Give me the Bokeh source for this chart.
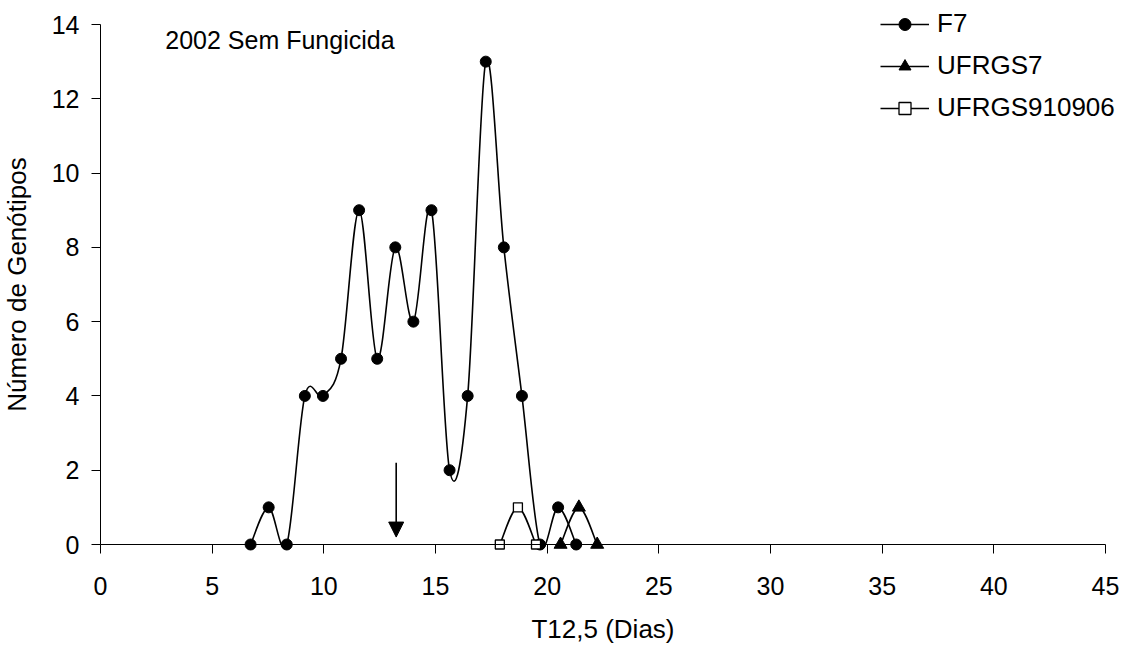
from bokeh.plotting import figure
from bokeh.models import (Range1d, SingleIntervalTicker, Legend, LegendItem,
                          Arrow, NormalHead, Label, ColumnDataSource)
from bokeh.embed import file_html
from bokeh.resources import INLINE

# Number of genotypes per T12,5 class (days)
f7_x = [6.72, 7.53, 8.34, 9.15, 9.96, 10.77, 11.58, 12.39, 13.2, 14.01,
        14.82, 15.63, 16.44, 17.25, 18.06, 18.87, 19.68, 20.49, 21.3]
f7_y = [0, 1, 0, 4, 4, 5, 9, 5, 8, 6, 9, 2, 4, 13, 8, 4, 0, 1, 0]

ufrgs7_x = [20.6, 21.42, 22.24]
ufrgs7_y = [0, 1, 0]

ufrgs910906_x = [17.88, 18.69, 19.5]
ufrgs910906_y = [0, 1, 0]

series_names = ["F7", "UFRGS7", "UFRGS910906"]
x_axis_span = (0, 45)
y_axis_span = (0, 14)
x_ticks_interval = 5
y_ticks_interval = 2

# mean of the F7 population, marked with an arrow
arrow_x = 13.24
arrow_top = 2.2
arrow_tip = 0.2

FONT = "Liberation Sans"
FS = "25px"
FS_LABEL = "26px"

# canvas and where the axes sit on it (pixels)
W, H = 1124, 646
AX_LEFT, AX_RIGHT = 100, 1105
AX_TOP, AX_BOTTOM = 24, 544

# the frame covers the whole canvas so that markers on the axes and the
# legend are not cut off; the axes are pinned at x=0 / y=0
px_x = (AX_RIGHT - AX_LEFT) / (x_axis_span[1] - x_axis_span[0])
px_y = (AX_BOTTOM - AX_TOP) / (y_axis_span[1] - y_axis_span[0])
x_lo = x_axis_span[0] - AX_LEFT / px_x
x_hi = x_lo + W / px_x
y_lo = y_axis_span[0] - (H - AX_BOTTOM) / px_y
y_hi = y_lo + H / px_y


def smooth_segments(xs, ys):
    """Cubic Bezier segments through the points (Catmull-Rom style)."""
    n = len(xs)
    out = dict(x0=[], y0=[], x1=[], y1=[], cx0=[], cy0=[], cx1=[], cy1=[])
    for i in range(n - 1):
        a = max(i - 1, 0)
        b = min(i + 2, n - 1)
        out["x0"].append(xs[i])
        out["y0"].append(ys[i])
        out["x1"].append(xs[i + 1])
        out["y1"].append(ys[i + 1])
        out["cx0"].append(xs[i] + (xs[i + 1] - xs[a]) / 6)
        out["cy0"].append(ys[i] + (ys[i + 1] - ys[a]) / 6)
        out["cx1"].append(xs[i + 1] - (xs[b] - xs[i]) / 6)
        out["cy1"].append(ys[i + 1] - (ys[b] - ys[i]) / 6)
    return ColumnDataSource(out)


p = figure(width=W, height=H, output_backend="svg", toolbar_location=None,
           x_range=Range1d(x_lo, x_hi), y_range=Range1d(y_lo, y_hi),
           min_border_left=0, min_border_right=0,
           min_border_top=0, min_border_bottom=0)
p.outline_line_color = None
p.grid.visible = False
p.background_fill_color = "white"
p.border_fill_color = "white"

xa, ya = p.xaxis[0], p.yaxis[0]
xa.fixed_location = y_axis_span[0]
ya.fixed_location = x_axis_span[0]
xa.bounds = x_axis_span
ya.bounds = y_axis_span

for ax in (xa, ya):
    ax.axis_line_color = "black"
    ax.major_tick_line_color = "black"
    ax.major_tick_out = 9
    ax.major_tick_in = 0
    ax.minor_tick_out = 0
    ax.minor_tick_in = 0
    ax.major_label_text_font = FONT
    ax.major_label_text_font_size = FS
    ax.major_label_text_color = "black"
    ax.axis_label_text_font = FONT
    ax.axis_label_text_font_size = FS_LABEL
    ax.axis_label_text_font_style = "normal"
    ax.axis_label_text_color = "black"

xa.ticker = SingleIntervalTicker(interval=x_ticks_interval, num_minor_ticks=0)
ya.ticker = SingleIntervalTicker(interval=y_ticks_interval, num_minor_ticks=0)
xa.axis_label = "T12,5 (Dias)"
ya.axis_label = "Número de Genótipos"
xa.major_label_standoff = 23
xa.axis_label_standoff = 16
ya.major_label_standoff = 12
ya.axis_label_standoff = 17

# smoothed curves
curves = []
for xs, ys in ((f7_x, f7_y), (ufrgs7_x, ufrgs7_y), (ufrgs910906_x, ufrgs910906_y)):
    curves.append(p.bezier(x0="x0", y0="y0", x1="x1", y1="y1", cx0="cx0", cy0="cy0",
                           cx1="cx1", cy1="cy1", source=smooth_segments(xs, ys),
                           line_color="black", line_width=1.6))

# markers
r_f7 = p.scatter(f7_x, f7_y, marker="circle", size=11,
                 fill_color="black", line_color="black")
r_u7 = p.scatter(ufrgs7_x, ufrgs7_y, marker="triangle", size=13,
                 fill_color="black", line_color="black")
r_u9 = p.scatter(ufrgs910906_x, ufrgs910906_y, marker="square", size=9,
                 fill_color="white", line_color="black", line_width=1.3)

legend = Legend(items=[
    LegendItem(label=series_names[0], renderers=[curves[0], r_f7]),
    LegendItem(label=series_names[1], renderers=[curves[1], r_u7]),
    LegendItem(label=series_names[2], renderers=[curves[2], r_u9]),
], location=(880, 523), orientation="vertical")
legend.glyph_width = 49
legend.glyph_height = 30
legend.label_height = 30
legend.spacing = 11
legend.label_standoff = 8
legend.padding = 0
legend.margin = 0
legend.border_line_color = None
legend.background_fill_alpha = 0
legend.label_text_font = FONT
legend.label_text_font_size = FS_LABEL
legend.label_text_color = "black"
legend.label_text_baseline = "middle"
p.add_layout(legend)

p.add_layout(Arrow(end=NormalHead(size=15, fill_color="black", line_color="black"),
                   x_start=arrow_x, y_start=arrow_top, x_end=arrow_x, y_end=arrow_tip,
                   line_color="black", line_width=1.6))

p.add_layout(Label(x=2.9, y=13.57, text="2002 Sem Fungicida", text_font=FONT,
                   text_font_size=FS, text_color="black", text_baseline="middle"))

open("out.html", "w").write(file_html(p, INLINE))
